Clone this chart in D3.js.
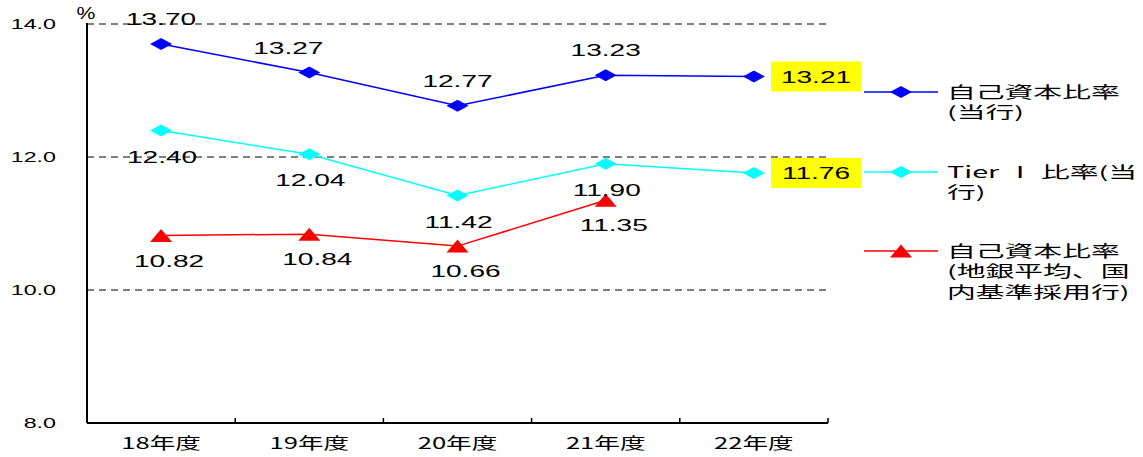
<!DOCTYPE html>
<html>
<head>
<meta charset="utf-8">
<script src="https://cdn.jsdelivr.net/npm/d3@7"></script>
<style>
  body { margin: 0; background: #fff; }
  svg { display: block; }
</style>
</head>
<body>
<div id="chart"></div>
<script>
// data
const categories = ['18年度', '19年度', '20年度', '21年度', '22年度'];
const ownCapital = [13.70, 13.27, 12.77, 13.23, 13.21];   // 自己資本比率（当行）
const tierOne = [12.40, 12.04, 11.42, 11.90, 11.76];      // Tier I 比率（当行）
const regionalAvg = [10.82, 10.84, 10.66, 11.35];          // 自己資本比率（地銀平均、国内基準採用行）
const yTicks = [8.0, 10.0, 12.0, 14.0];

const W = 1143, H = 457;
const plotLeft = 87, plotRight = 828, plotTop = 24, plotBottom = 423;

const numFont = '"Liberation Sans", Arial, sans-serif';
const jpFont = '"Noto Sans CJK JP", sans-serif';

const svg = d3.select('#chart').append('svg')
    .attr('width', W)
    .attr('height', H);

const x = d3.scaleBand()
    .domain(categories)
    .range([plotLeft, plotRight]);

const y = d3.scaleLinear()
    .domain([8, 14])
    .range([plotBottom, plotTop]);

const cx = d => x(d) + x.bandwidth() / 2;

// the original text is stretched sideways, so scale each text on x
function wideText(g, px, py, str, opt) {
    const t = g.append('text')
        .attr('transform', `translate(${px},${py}) scale(${opt.sx || 1.6},1)`)
        .attr('text-anchor', opt.anchor || 'middle')
        .attr('dy', '0.36em')
        .style('font-family', opt.font || numFont)
        .style('font-size', (opt.size || 17) + 'px')
        .style('fill', '#000')
        .text(str);
    return t;
}

// gridlines
svg.append('g')
    .selectAll('line')
    .data(yTicks.filter(d => d > 8))
    .join('line')
    .attr('x1', plotLeft)
    .attr('x2', plotRight)
    .attr('y1', d => y(d))
    .attr('y2', d => y(d))
    .attr('stroke', '#000')
    .attr('stroke-width', 1)
    .attr('stroke-dasharray', '7,5');

// y tick labels
const yLab = svg.append('g');
yTicks.forEach(t => {
    wideText(yLab, 56, y(t), t.toFixed(1), {anchor: 'end', size: 15, sx: 1.55});
});
wideText(svg, 86, 13, '%', {size: 17, sx: 1.25});

// axes
svg.append('line')
    .attr('x1', plotLeft).attr('x2', plotLeft)
    .attr('y1', plotTop - 1).attr('y2', plotBottom)
    .attr('stroke', '#000').attr('stroke-width', 2);

const xAxis = d3.axisBottom(x).tickSize(0).tickFormat('');
svg.append('g')
    .attr('transform', `translate(0,${plotBottom})`)
    .call(xAxis)
    .call(g => g.select('.domain').attr('stroke-width', 2).attr('d', `M${plotLeft},0H${plotRight}`));

// category separators ticks pointing up
svg.append('g')
    .selectAll('line')
    .data(categories)
    .join('line')
    .attr('x1', d => x(d) + x.bandwidth())
    .attr('x2', d => x(d) + x.bandwidth())
    .attr('y1', plotBottom)
    .attr('y2', plotBottom - 5)
    .attr('stroke', '#000')
    .attr('stroke-width', 1.5);

const xLab = svg.append('g');
categories.forEach(c => {
    wideText(xLab, cx(c), 443, c, {font: jpFont, size: 16, sx: 1.6});
});

// series
const diamond = 'M-11,0L0,-6L11,0L0,6Z';
const triangle = 'M-11,6.5L0,-6.5L11,6.5Z';

const line = d3.line()
    .x((d, i) => cx(categories[i]))
    .y(d => y(d));

function drawSeries(vals, color, shape) {
    const g = svg.append('g');
    g.append('path')
        .datum(vals)
        .attr('d', line)
        .attr('fill', 'none')
        .attr('stroke', color)
        .attr('stroke-width', 1.5);
    g.selectAll('path.m')
        .data(vals)
        .join('path')
        .attr('class', 'm')
        .attr('d', shape)
        .attr('transform', (d, i) => `translate(${cx(categories[i])},${y(d)})`)
        .attr('fill', color);
    return g;
}

drawSeries(regionalAvg, '#ff0000', triangle);
drawSeries(tierOne, '#00ffff', diamond);
drawSeries(ownCapital, '#0000ff', diamond);

// value labels
const labels = svg.append('g');
const blueDx = [0, -21, 0, 0];
ownCapital.slice(0, 4).forEach((v, i) => {
    wideText(labels, cx(categories[i]) + blueDx[i], y(v) - 25, v.toFixed(2), {size: 17, sx: 1.65});
});
tierOne.slice(0, 4).forEach((v, i) => {
    wideText(labels, cx(categories[i]) + 1, y(v) + 26, v.toFixed(2), {size: 17, sx: 1.65});
});
regionalAvg.forEach((v, i) => {
    wideText(labels, cx(categories[i]) + 8, y(v) + 25, v.toFixed(2), {size: 17, sx: 1.65});
});

// last-year values in yellow boxes
[ownCapital[4], tierOne[4]].forEach(v => {
    labels.append('rect')
        .attr('x', 771)
        .attr('y', y(v) - 15)
        .attr('width', 90)
        .attr('height', 30)
        .attr('fill', '#ffff00');
    wideText(labels, 816, y(v), v.toFixed(2), {size: 17, sx: 1.65});
});

// legend
const legendItems = [
    {color: '#0000ff', shape: diamond, y: 92, lines: ['自己資本比率', '(当行)']},
    {color: '#00ffff', shape: diamond, y: 172, lines: ['Tier Ⅰ 比率(当', '行)']},
    {color: '#ff0000', shape: triangle, y: 251, lines: ['自己資本比率', '(地銀平均、国', '内基準採用行)']}
];
const legend = svg.append('g');
legendItems.forEach(it => {
    legend.append('line')
        .attr('x1', 864).attr('x2', 938)
        .attr('y1', it.y).attr('y2', it.y)
        .attr('stroke', it.color).attr('stroke-width', 1.5);
    legend.append('path')
        .attr('d', it.shape)
        .attr('transform', `translate(901,${it.y})`)
        .attr('fill', it.color);
    it.lines.forEach((s, j) => {
        wideText(legend, 947, it.y + j * 20.5, s, {font: jpFont, size: 16, sx: 1.8, anchor: 'start'});
    });
});
</script>
</body>
</html>
